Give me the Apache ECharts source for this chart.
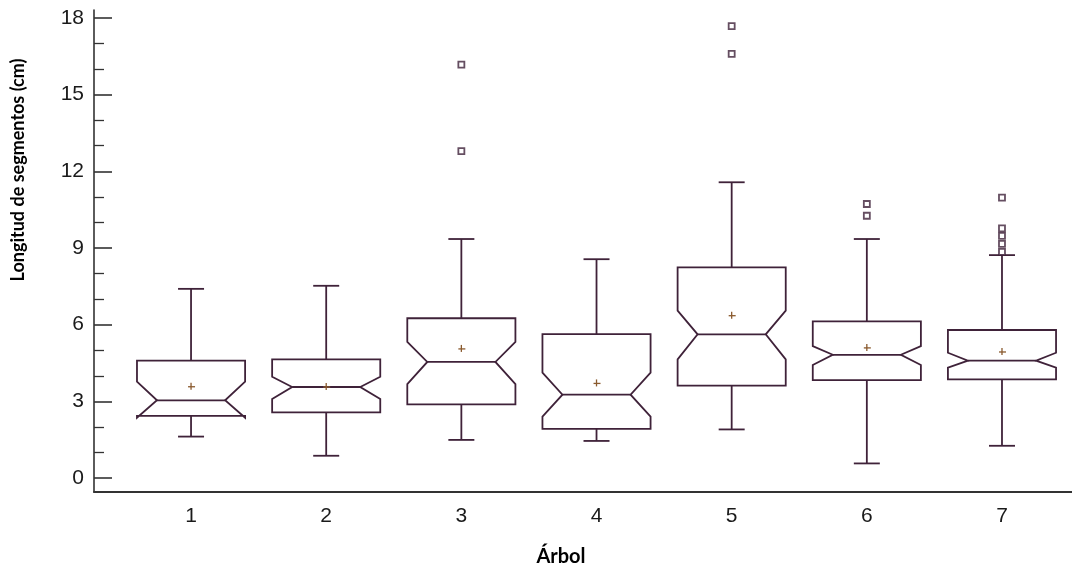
<!DOCTYPE html>
<html>
<head>
<meta charset="utf-8">
<script src="https://cdn.jsdelivr.net/npm/echarts@6/dist/echarts.min.js"></script>
<style>
html,body{margin:0;padding:0;background:#fff;}
#chart{width:1072px;height:573px;}
</style>
</head>
<body>
<div id="chart"></div>
<script>
var categories = [1, 2, 3, 4, 5, 6, 7];
var whiskerLow  = [1.62, 0.87, 1.49, 1.45, 1.90, 0.57, 1.26];
var q1          = [2.43, 2.57, 2.88, 1.92, 3.61, 3.83, 3.86];
var notchLow    = [2.36, 3.09, 3.67, 2.40, 4.64, 4.42, 4.32];
var median      = [3.04, 3.56, 4.54, 3.26, 5.62, 4.82, 4.59];
var notchHigh   = [3.77, 3.96, 5.33, 4.12, 6.55, 5.16, 4.90];
var q3          = [4.59, 4.64, 6.25, 5.63, 8.24, 6.13, 5.79];
var whiskerHigh = [7.40, 7.52, 9.35, 8.56, 11.57, 9.35, 8.72];
var means       = [3.57, 3.56, 5.05, 3.70, 6.35, 5.09, 4.93];
var outlierCat  = [3, 3, 5, 5, 6, 6, 7, 7, 7, 7, 7];
var outlierVal  = [16.17, 12.79, 17.68, 16.59, 10.72, 10.26, 10.97, 9.77, 9.47, 9.16, 8.85];
var yMajorTicks = [0, 3, 6, 9, 12, 15, 18];
var yMinorTicks = [1, 2, 4, 5, 7, 8, 10, 11, 13, 14, 16, 17];

var boxColor = '#3f2239';
var meanColor = '#8a5a2e';
var labelFont = '"Liberation Sans", Arial, sans-serif';

var boxData = categories.map(function (c, i) {
  return [c, whiskerLow[i], q1[i], notchLow[i], median[i], notchHigh[i], q3[i], whiskerHigh[i], means[i]];
});
var outlierData = outlierCat.map(function (c, i) { return [c, outlierVal[i]]; });

function renderBox(params, api) {
  var x = api.value(0);
  var halfW = api.size([0.4, 0])[0];
  var notchD = 20;
  var capHalf = 13;
  var cx = api.coord([x, 0])[0];
  var L = cx - halfW, R = cx + halfW;
  function py(v) { return api.coord([x, v])[1]; }
  var yWL = py(api.value(1)), yQ1 = py(api.value(2)), yNL = py(api.value(3)),
      yMed = py(api.value(4)), yNH = py(api.value(5)), yQ3 = py(api.value(6)),
      yWH = py(api.value(7)), yMean = py(api.value(8));
  var lineStyle = { stroke: boxColor, lineWidth: 1.8, fill: null };
  var pts = [
    [L, yQ3], [R, yQ3], [R, yNH], [R - notchD, yMed], [R, yNL], [R, yQ1],
    [L, yQ1], [L, yNL], [L + notchD, yMed], [L, yNH]
  ];
  return {
    type: 'group',
    children: [
      { type: 'polygon', shape: { points: pts }, style: { stroke: boxColor, lineWidth: 1.8, fill: 'none' } },
      { type: 'line', shape: { x1: L + notchD, y1: yMed, x2: R - notchD, y2: yMed }, style: lineStyle },
      { type: 'line', shape: { x1: cx, y1: yQ3, x2: cx, y2: yWH }, style: lineStyle },
      { type: 'line', shape: { x1: cx, y1: yQ1, x2: cx, y2: yWL }, style: lineStyle },
      { type: 'line', shape: { x1: cx - capHalf, y1: yWH, x2: cx + capHalf, y2: yWH }, style: lineStyle },
      { type: 'line', shape: { x1: cx - capHalf, y1: yWL, x2: cx + capHalf, y2: yWL }, style: lineStyle },
      { type: 'line', shape: { x1: cx - 3, y1: yMean, x2: cx + 4, y2: yMean }, style: { stroke: meanColor, lineWidth: 1.3 } },
      { type: 'line', shape: { x1: cx, y1: yMean - 4, x2: cx, y2: yMean + 3 }, style: { stroke: meanColor, lineWidth: 1.3 } }
    ]
  };
}

var chart = echarts.init(document.getElementById('chart'), null, { renderer: 'canvas' });
chart.setOption({
  animation: false,
  backgroundColor: '#ffffff',
  grid: { left: 94, right: 0, top: 10, bottom: 81, containLabel: false },
  xAxis: {
    type: 'value', min: 0.282, max: 7.518,
    splitLine: { show: false },
    axisLine: { show: true, onZero: false, lineStyle: { color: '#333', width: 2 } },
    axisTick: { show: false },
    axisLabel: { customValues: categories, margin: 14, color: '#1a1a1a', fontSize: 21, fontFamily: labelFont }
  },
  yAxis: [{
    type: 'value', min: -0.548, max: 18.31,
    splitLine: { show: false },
    axisLine: { show: true, onZero: false, lineStyle: { color: '#333', width: 1.6 } },
    axisTick: { show: true, inside: true, length: 18, customValues: yMajorTicks, lineStyle: { color: '#333', width: 1.6 } },
    axisLabel: { customValues: yMajorTicks, margin: 10, color: '#1a1a1a', fontSize: 21, fontFamily: labelFont }
  }, {
    type: 'value', min: -0.548, max: 18.31, position: 'left',
    splitLine: { show: false },
    axisLine: { show: false, onZero: false },
    axisTick: { show: true, inside: true, length: 10, customValues: yMinorTicks, lineStyle: { color: '#333', width: 1.3 } },
    axisLabel: { show: false }
  }],
  graphic: [
    { type: 'text', x: 18, y: 170, rotation: Math.PI / 2,
      style: { text: 'Longitud de segmentos (cm)', fill: '#000', font: 'bold 18px Lato, "Open Sans", sans-serif', textAlign: 'center', textVerticalAlign: 'middle' } },
    { type: 'text', x: 561, y: 557,
      style: { text: 'Árbol', fill: '#000', font: 'bold 20px Lato, "Open Sans", sans-serif', textAlign: 'center', textVerticalAlign: 'middle' } }
  ],
  series: [{
    type: 'custom',
    renderItem: renderBox,
    data: boxData,
    encode: { x: 0, y: [1, 7] },
    silent: true
  }, {
    type: 'scatter',
    data: outlierData,
    symbol: 'rect',
    symbolSize: 6,
    itemStyle: { color: '#fff', borderColor: boxColor, borderWidth: 1.8 },
    silent: true
  }]
});
</script>
</body>
</html>
